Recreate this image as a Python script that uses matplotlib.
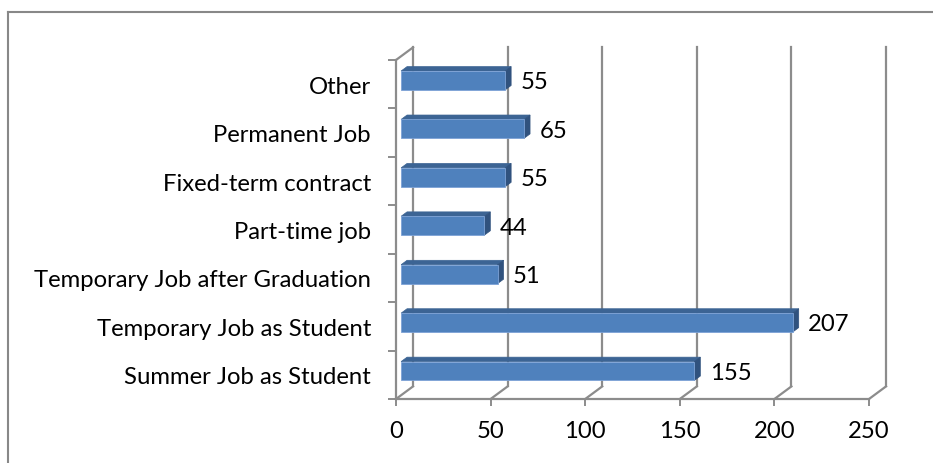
import numpy as np
import matplotlib.pyplot as plt
from matplotlib.patches import Polygon
from matplotlib.lines import Line2D

categories = ['Summer Job as Student', 'Temporary Job as Student',
              'Temporary Job after Graduation', 'Part-time job',
              'Fixed-term contract', 'Permanent Job', 'Other']
values = [155, 207, 51, 44, 55, 65, 55]
xticks = [0, 50, 100, 150, 200, 250]

plt.rcParams['font.family'] = ['Lato', 'DejaVu Sans']
fs = 17.2
grid_c = '#8c8c8c'
face_c = '#4f81bd'
top_c = '#3c6494'
side_c = '#30527e'

fig = plt.figure(figsize=(9.33, 4.64), dpi=100)
ax = fig.add_axes([396/933, 64/464, 473/933, 339/464])
ax.set_xlim(0, 250)
ax.set_ylim(-0.5, 6.5)

# depth of the 3d box in data units
ddx, ddy = 9.0, 0.26
ymin, ymax = -0.5, 6.5

# back wall gridlines and floor diagonals
for t in xticks:
    ax.plot([t + ddx, t + ddx], [ymin + ddy, ymax + ddy], color=grid_c, lw=1.6, clip_on=False, zorder=1)
    ax.plot([t, t + ddx], [ymin, ymin + ddy], color=grid_c, lw=1.6, clip_on=False, zorder=1)
ax.plot([0, ddx], [ymax, ymax + ddy], color=grid_c, lw=1.6, clip_on=False, zorder=1)

# bars
f0, f1 = 0.3, 0.65
h = 0.39
for i, v in enumerate(values):
    x0 = f0 * ddx
    yc = i + f0 * ddy
    y0, y1 = yc - h / 2, yc + h / 2
    ox, oy = (f1 - f0) * ddx, (f1 - f0) * ddy
    top = Polygon([(x0, y1), (x0 + v, y1), (x0 + v + ox, y1 + oy), (x0 + ox, y1 + oy)],
                  closed=True, fc=top_c, ec=top_c, lw=0.5, zorder=3, clip_on=False)
    side = Polygon([(x0 + v, y0), (x0 + v + ox, y0 + oy), (x0 + v + ox, y1 + oy), (x0 + v, y1)],
                   closed=True, fc=side_c, ec=side_c, lw=0.5, zorder=3, clip_on=False)
    ax.add_patch(top)
    ax.add_patch(side)
    ax.barh(yc, v, height=h, left=x0, color=face_c, edgecolor='#7da2d6', linewidth=0.6, zorder=4)
    ax.text(v + 10.8, i + 0.05, str(v), fontsize=fs, ha='left', va='center', color='black')

for s in ['top', 'right']:
    ax.spines[s].set_visible(False)
for s in ['left', 'bottom']:
    ax.spines[s].set_color(grid_c)
    ax.spines[s].set_linewidth(1.6)

ax.set_xticks(xticks)
ax.set_xticklabels([str(t) for t in xticks], fontsize=fs)
ax.tick_params(axis='x', length=5, width=1.4, color=grid_c, pad=10)

ax.set_yticks(np.arange(-0.5, 7.0, 1.0))
ax.set_yticklabels([])
ax.set_yticks(np.arange(len(categories)), minor=True)
ax.set_yticklabels(categories, minor=True, fontsize=fs)
ax.tick_params(axis='y', which='major', length=6, width=1.4, color=grid_c)
ax.tick_params(axis='y', which='minor', length=0, pad=18)

# outer chart border (cut off at right and bottom)
fig.add_artist(Line2D([8/933, 8/933], [0, 1 - 13/464], color='#888888', lw=1.5))
fig.add_artist(Line2D([8/933, 1], [1 - 13/464, 1 - 13/464], color='#888888', lw=1.5))

fig.savefig('out.png', dpi=100)
